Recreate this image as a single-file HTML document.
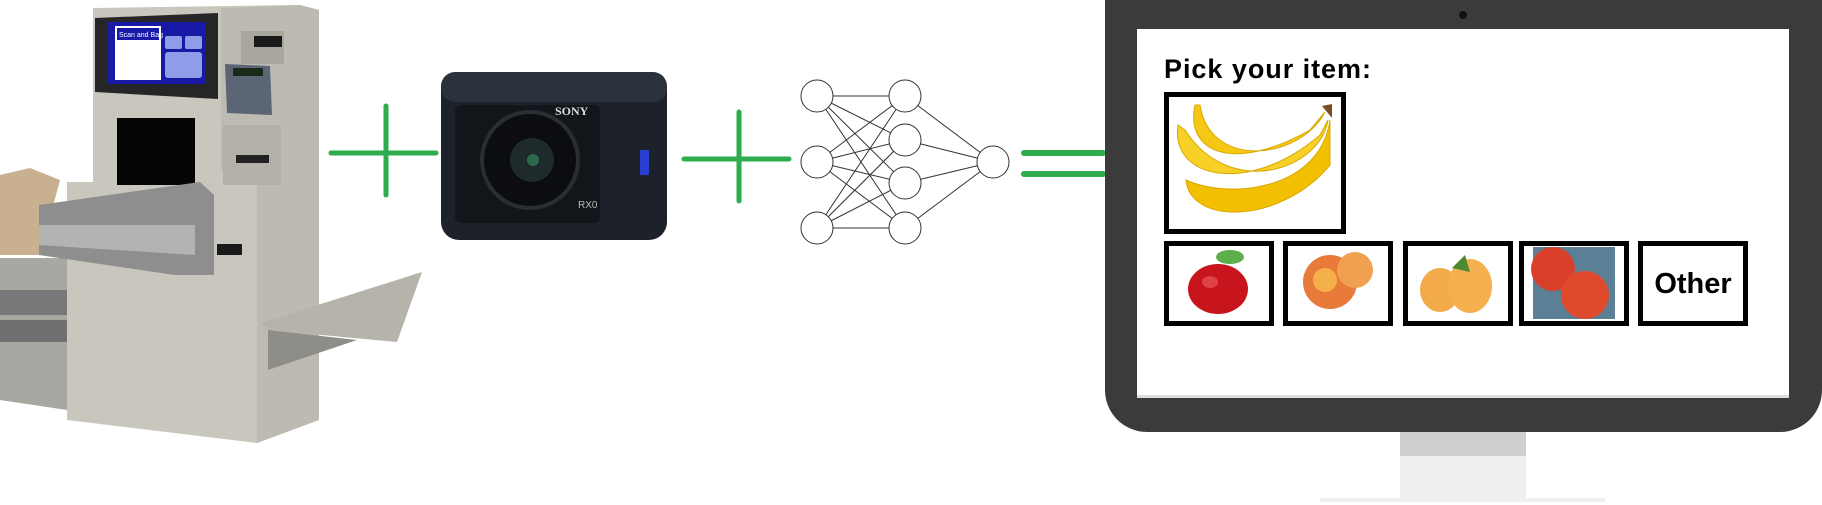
<!DOCTYPE html>
<html><head><meta charset="utf-8"><style>html,body{margin:0;padding:0;background:#fff;width:1822px;height:505px;overflow:hidden}</style></head>
<body>
<svg width="1822" height="505" viewBox="0 0 1822 505" xmlns="http://www.w3.org/2000/svg" style="display:block;font-family:'Liberation Sans',sans-serif">
<!-- Kiosk -->
<polygon points="0,258 67,258 67,410 0,400" fill="#a9a7a2"/>
<rect x="0" y="290" width="67" height="25" fill="#77787a"/>
<rect x="0" y="320" width="67" height="22" fill="#6f7072"/>
<polygon points="93,8 300,5 319,10 319,420 257,443 67,420 67,182 93,182" fill="#c9c6bd"/>
<polygon points="221,8 300,5 319,10 319,420 257,443 257,180 221,170" fill="#bdbab1"/>
<polygon points="95,18 218,13 218,99 95,92" fill="#262628"/>
<rect x="107" y="22" width="99" height="62" fill="#1919a8"/>
<rect x="115" y="26" width="46" height="54" fill="#fff"/>
<rect x="117" y="28" width="42" height="12" fill="#1919a8"/>
<text x="119" y="37" font-size="7" fill="#fff">Scan and Bag</text>
<rect x="165" y="52" width="37" height="26" rx="3" fill="#8f9de8"/>
<rect x="165" y="36" width="17" height="13" rx="2" fill="#8f9de8"/>
<rect x="185" y="36" width="17" height="13" rx="2" fill="#8f9de8"/>
<rect x="241" y="31" width="43" height="33" fill="#a9a69e"/>
<rect x="254" y="36" width="28" height="11" fill="#1a1a1a"/>
<polygon points="225,64 270,66 272,115 227,113" fill="#5b6575"/>
<rect x="233" y="68" width="30" height="8" fill="#1a2a1a"/>
<rect x="117" y="118" width="78" height="67" fill="#050505"/>
<rect x="223" y="125" width="58" height="60" fill="#b3b0a8"/>
<rect x="236" y="155" width="33" height="8" fill="#222"/>
<polygon points="0,175 30,168 60,180 40,255 0,255" fill="#c8b090"/>
<polygon points="39,205 200,182 214,195 214,275 175,275 39,255" fill="#8e8e8e"/>
<polygon points="39,225 195,225 195,255 39,245" fill="#b3b3b1"/>
<rect x="217" y="244" width="25" height="11" fill="#1a1a1a"/>
<polygon points="261,323 422,272 397,342 268,330" fill="#b6b3aa"/>
<polygon points="268,330 357,340 268,370" fill="#8f8d88"/>
<!-- plus 1 -->
<g stroke="#2fad4e" stroke-width="5" stroke-linecap="round">
<line x1="331" y1="153" x2="436" y2="153"/><line x1="386" y1="106" x2="386" y2="195"/>
<line x1="684" y1="159" x2="789" y2="159"/><line x1="739" y1="112" x2="739" y2="201"/>
<line x1="1024" y1="153" x2="1103" y2="153" stroke-width="6"/><line x1="1024" y1="174" x2="1103" y2="174" stroke-width="6"/>
</g>
<!-- camera -->
<rect x="441" y="72" width="226" height="168" rx="18" fill="#1d2129"/>
<rect x="441" y="72" width="226" height="30" rx="14" fill="#2c323c"/>
<rect x="455" y="105" width="145" height="118" rx="6" fill="#121519"/>
<circle cx="530" cy="160" r="48" fill="#0b0d10" stroke="#2a2d33" stroke-width="4"/>
<circle cx="532" cy="160" r="22" fill="#1e2a2c"/>
<circle cx="533" cy="160" r="6" fill="#2c6a4a"/>
<text x="555" y="115" font-size="12" font-weight="bold" fill="#ddd" font-family="'Liberation Serif',serif">SONY</text>
<text x="578" y="208" font-size="10" fill="#bbb">RX0</text>
<rect x="640" y="150" width="9" height="25" fill="#2a3fd0"/>
<!-- NN -->
<g stroke="#333" stroke-width="1" fill="none">
<line x1="817" y1="96" x2="905" y2="96"/><line x1="817" y1="96" x2="905" y2="140"/><line x1="817" y1="96" x2="905" y2="183"/><line x1="817" y1="96" x2="905" y2="228"/>
<line x1="817" y1="162" x2="905" y2="96"/><line x1="817" y1="162" x2="905" y2="140"/><line x1="817" y1="162" x2="905" y2="183"/><line x1="817" y1="162" x2="905" y2="228"/>
<line x1="817" y1="228" x2="905" y2="96"/><line x1="817" y1="228" x2="905" y2="140"/><line x1="817" y1="228" x2="905" y2="183"/><line x1="817" y1="228" x2="905" y2="228"/>
<line x1="905" y1="96" x2="993" y2="162"/><line x1="905" y1="140" x2="993" y2="162"/><line x1="905" y1="183" x2="993" y2="162"/><line x1="905" y1="228" x2="993" y2="162"/>
</g>
<g stroke="#333" stroke-width="1" fill="#fff">
<circle cx="817" cy="96" r="16"/><circle cx="817" cy="162" r="16"/><circle cx="817" cy="228" r="16"/>
<circle cx="905" cy="96" r="16"/><circle cx="905" cy="140" r="16"/><circle cx="905" cy="183" r="16"/><circle cx="905" cy="228" r="16"/>
<circle cx="993" cy="162" r="16"/>
</g>
<!-- monitor -->
<rect x="1400" y="432" width="126" height="24" fill="#cfcfcf"/>
<rect x="1400" y="456" width="126" height="44" fill="#efefef"/>
<rect x="1320" y="498" width="285" height="4" fill="#efefef"/>
<rect x="1105" y="-40" width="717" height="472" rx="42" fill="#3b3b3b"/>
<circle cx="1463" cy="15" r="4" fill="#111"/>
<rect x="1137" y="29" width="652" height="369" fill="#fff"/>
<rect x="1137" y="395" width="652" height="3" fill="#ddd"/>
<text x="1164" y="78" font-size="27" font-weight="bold" fill="#000" textLength="207">Pick your item:</text>
<g fill="none" stroke="#000" stroke-width="5">
<rect x="1166.5" y="94.5" width="177" height="137"/>
<rect x="1166.5" y="243.5" width="105" height="80"/>
<rect x="1285.5" y="243.5" width="105" height="80"/>
<rect x="1405.5" y="243.5" width="105" height="80"/>
<rect x="1521.5" y="243.5" width="105" height="80"/>
<rect x="1640.5" y="243.5" width="105" height="80"/>
</g>
<!-- banana -->
<g fill="#f4c814" stroke="#d9a800" stroke-width="1">
<path d="M1195,105 C1185,150 1230,175 1310,130 L1325,112 C1300,160 1210,170 1200,105 Z"/>
<path d="M1178,125 C1170,180 1250,195 1320,135 L1328,120 C1320,170 1230,200 1185,130 Z" fill="#f7d028"/>
<path d="M1186,180 C1190,225 1280,225 1330,165 L1330,120 C1320,190 1230,200 1186,180 Z" fill="#f2c000"/>
</g>
<path d="M1322,106 L1332,104 L1332,118 Z" fill="#7a4a20"/>
<!-- apple -->
<ellipse cx="1218" cy="289" rx="30" ry="25" fill="#c8141c"/>
<ellipse cx="1210" cy="282" rx="8" ry="6" fill="#e04048"/>
<ellipse cx="1230" cy="257" rx="14" ry="7" fill="#5fae4c"/>
<!-- peaches -->
<circle cx="1330" cy="282" r="27" fill="#e87a3a"/>
<circle cx="1355" cy="270" r="18" fill="#f0a050"/>
<circle cx="1325" cy="280" r="12" fill="#f6b04a"/>
<!-- apricots -->
<ellipse cx="1440" cy="290" rx="20" ry="22" fill="#f3aa4a"/>
<ellipse cx="1470" cy="286" rx="22" ry="27" fill="#f5b050"/>
<path d="M1452,268 L1465,255 L1470,272 Z" fill="#4c8a30"/>
<!-- nectarines -->
<rect x="1533" y="247" width="82" height="72" fill="#5b7f95"/>
<circle cx="1553" cy="269" r="22" fill="#d8402a"/>
<circle cx="1585" cy="295" r="24" fill="#e04a2c"/>
<text x="1693" y="293" font-size="29" font-weight="bold" text-anchor="middle" fill="#000">Other</text>
</svg>
</body></html>
